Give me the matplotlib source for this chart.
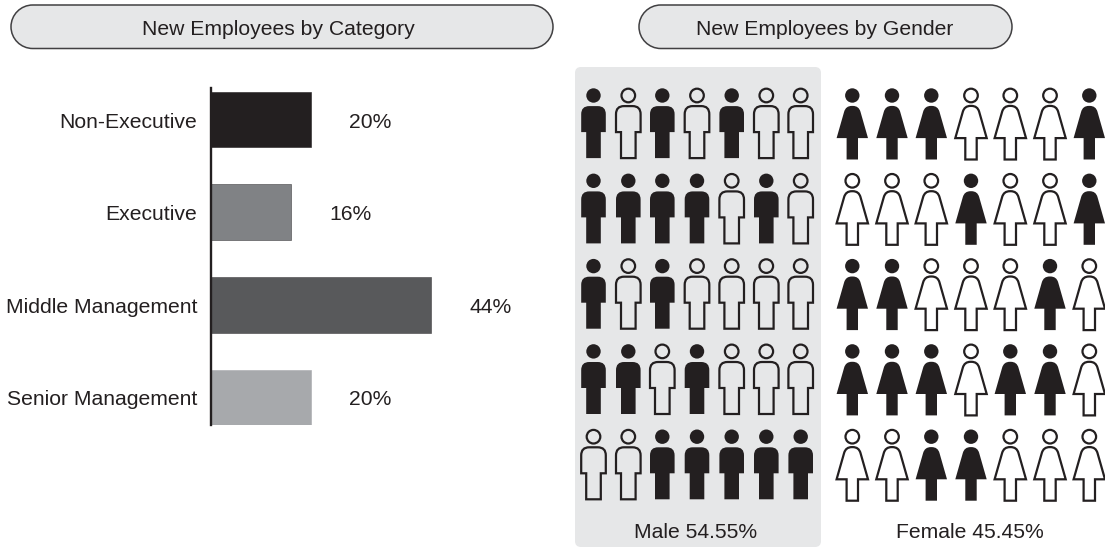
import matplotlib
matplotlib.use('Agg')
import matplotlib.pyplot as plt
from matplotlib.patches import Circle, FancyBboxPatch, PathPatch
from matplotlib.path import Path

plt.rcParams['font.family'] = ['Liberation Sans', 'DejaVu Sans']

W, H = 1105, 547
INK = '#231f20'
FS = 15.2

# Category bars
categories = ['Non-Executive', 'Executive', 'Middle Management', 'Senior Management']
shares = [20, 16, 44, 20]
bar_colors = ['#231f20', '#808285', '#58595b', '#a7a9ac']
bar_edges = ['#231f20', '#414042', '#414042', '#a7a9ac']

# Pictogram grids, 1 = filled figure
male_grid = [
    [1, 0, 1, 0, 1, 0, 0],
    [1, 1, 1, 1, 0, 1, 0],
    [1, 0, 1, 0, 0, 0, 0],
    [1, 1, 0, 1, 0, 0, 0],
    [0, 0, 1, 1, 1, 1, 1],
]
female_grid = [
    [1, 1, 1, 0, 0, 0, 1],
    [0, 0, 0, 1, 0, 0, 1],
    [1, 1, 0, 0, 0, 1, 0],
    [1, 1, 1, 0, 1, 1, 0],
    [0, 0, 1, 1, 0, 0, 0],
]
male_label = 'Male 54.55%'
female_label = 'Female 45.45%'

fig = plt.figure(figsize=(W / 100, H / 100), dpi=100)

# Background layer in pixel coordinates, y going down
bg = fig.add_axes([0, 0, 1, 1])
bg.set_xlim(0, W)
bg.set_ylim(H, 0)
bg.axis('off')


def pill(ax, x0, x1, y0, y1, text, text_x):
    # Capsule with true semicircle ends, built from cubic segments
    r = (y1 - y0) / 2
    k = 0.5523 * r
    verts = [(x0 + r, y0), (x1 - r, y0),
             (x1 - r + k, y0), (x1, y0 + r - k), (x1, y0 + r),
             (x1, y0 + r + k), (x1 - r + k, y1), (x1 - r, y1),
             (x0 + r, y1),
             (x0 + r - k, y1), (x0, y0 + r + k), (x0, y0 + r),
             (x0, y0 + r - k), (x0 + r - k, y0), (x0 + r, y0),
             (x0 + r, y0)]
    codes = [Path.MOVETO, Path.LINETO] + [Path.CURVE4] * 6 + [Path.LINETO] + [Path.CURVE4] * 6 + [Path.CLOSEPOLY]
    ax.add_patch(PathPatch(Path(verts, codes), fc='#e6e7e8', ec='#414042', lw=1.1))
    ax.text(text_x, 35, text, ha='center', va='baseline', fontsize=FS, color=INK)


def rounded_body(pts):
    # pts are (x, y, radius); corners with a radius get a quadratic curve
    verts, codes = [], []
    n = len(pts)
    for i, (x, y, r) in enumerate(pts):
        if r == 0:
            verts.append((x, y))
            codes.append(Path.LINETO)
            continue
        px, py, _ = pts[i - 1]
        nx, ny, _ = pts[(i + 1) % n]
        d1 = ((px - x) ** 2 + (py - y) ** 2) ** 0.5
        d2 = ((nx - x) ** 2 + (ny - y) ** 2) ** 0.5
        verts += [(x + (px - x) * r / d1, y + (py - y) * r / d1), (x, y),
                  (x + (nx - x) * r / d2, y + (ny - y) * r / d2)]
        codes += [Path.LINETO, Path.CURVE3, Path.CURVE3]
    codes[0] = Path.MOVETO
    verts.append(verts[0])
    codes.append(Path.CLOSEPOLY)
    return Path(verts, codes)


# Figure outlines relative to the head centre
male_body = [(-12.3, 10.6, 8), (12.3, 10.6, 8), (12.3, 36.6, 0), (7.3, 36.6, 0),
             (7.3, 62.6, 0), (-7.3, 62.6, 0), (-7.3, 36.6, 0), (-12.3, 36.6, 0)]
female_body = [(-6.5, 10.4, 6), (6.5, 10.4, 6), (15.7, 42.6, 0), (5.7, 42.6, 0),
               (5.7, 64, 0), (-5.7, 64, 0), (-5.7, 42.6, 0), (-15.7, 42.6, 0)]


def person(ax, cx, cy, body, filled):
    shift = [(cx + x, cy + y, r) for x, y, r in body]
    if filled:
        ax.add_patch(Circle((cx, cy), 7.2, fc=INK, ec='none'))
        ax.add_patch(PathPatch(rounded_body(shift), fc=INK, ec='none'))
    else:
        ax.add_patch(Circle((cx, cy), 6.8, fc='none', ec=INK, lw=1.6))
        ax.add_patch(PathPatch(rounded_body(shift), fc='none', ec=INK, lw=1.6,
                               joinstyle='miter'))


pill(bg, 11, 553, 5, 48.5, 'New Employees by Category', 278)
pill(bg, 639, 1012, 5, 48.5, 'New Employees by Gender', 825)

bg.add_patch(FancyBboxPatch((581, 73), 234, 468, boxstyle='round,pad=6,rounding_size=6',
                            fc='#e6e7e8', ec='none'))

row_y = [95.5, 180.8, 266.1, 351.4, 436.7]
male_x = [593.5, 628.3, 662.3, 697, 731.7, 766.3, 800.7]
female_x = [852.3, 892, 931.3, 971, 1010.3, 1050, 1089.3]

for grid, xs, body in [(male_grid, male_x, male_body), (female_grid, female_x, female_body)]:
    for row, y in zip(grid, row_y):
        for val, x in zip(row, xs):
            person(bg, x, y, body, val == 1)

bg.text(696, 538.3, male_label, ha='center', va='baseline', fontsize=FS, color=INK)
bg.text(970, 538.3, female_label, ha='center', va='baseline', fontsize=FS, color=INK)

# Bar chart: 5 px per percent, axis line at x=211
ax = fig.add_axes([211 / W, 1 - 425 / H, 321 / W, 337 / H])
ax.patch.set_alpha(0)
ypos = list(range(len(categories)))
ax.barh(ypos, shares, height=0.6, color=bar_colors, edgecolor=bar_edges, linewidth=0.4)
ax.set_xlim(0, 321 / 5.0)
ax.set_ylim(3.297, -0.34)
ax.set_yticks([])
ax.set_xticks([])
for s in ['top', 'right', 'bottom']:
    ax.spines[s].set_visible(False)
ax.spines['left'].set_color(INK)
ax.spines['left'].set_linewidth(1.7)
for y, name, val in zip(ypos, categories, shares):
    ax.annotate(name, (0, y), xytext=(-14, -8), textcoords='offset pixels',
                ha='right', va='baseline', fontsize=FS, color=INK)
    ax.annotate(f'{val}%', (val, y), xytext=(38, -8), textcoords='offset pixels',
                ha='left', va='baseline', fontsize=FS, color=INK)

fig.savefig('out.png', dpi=100)
